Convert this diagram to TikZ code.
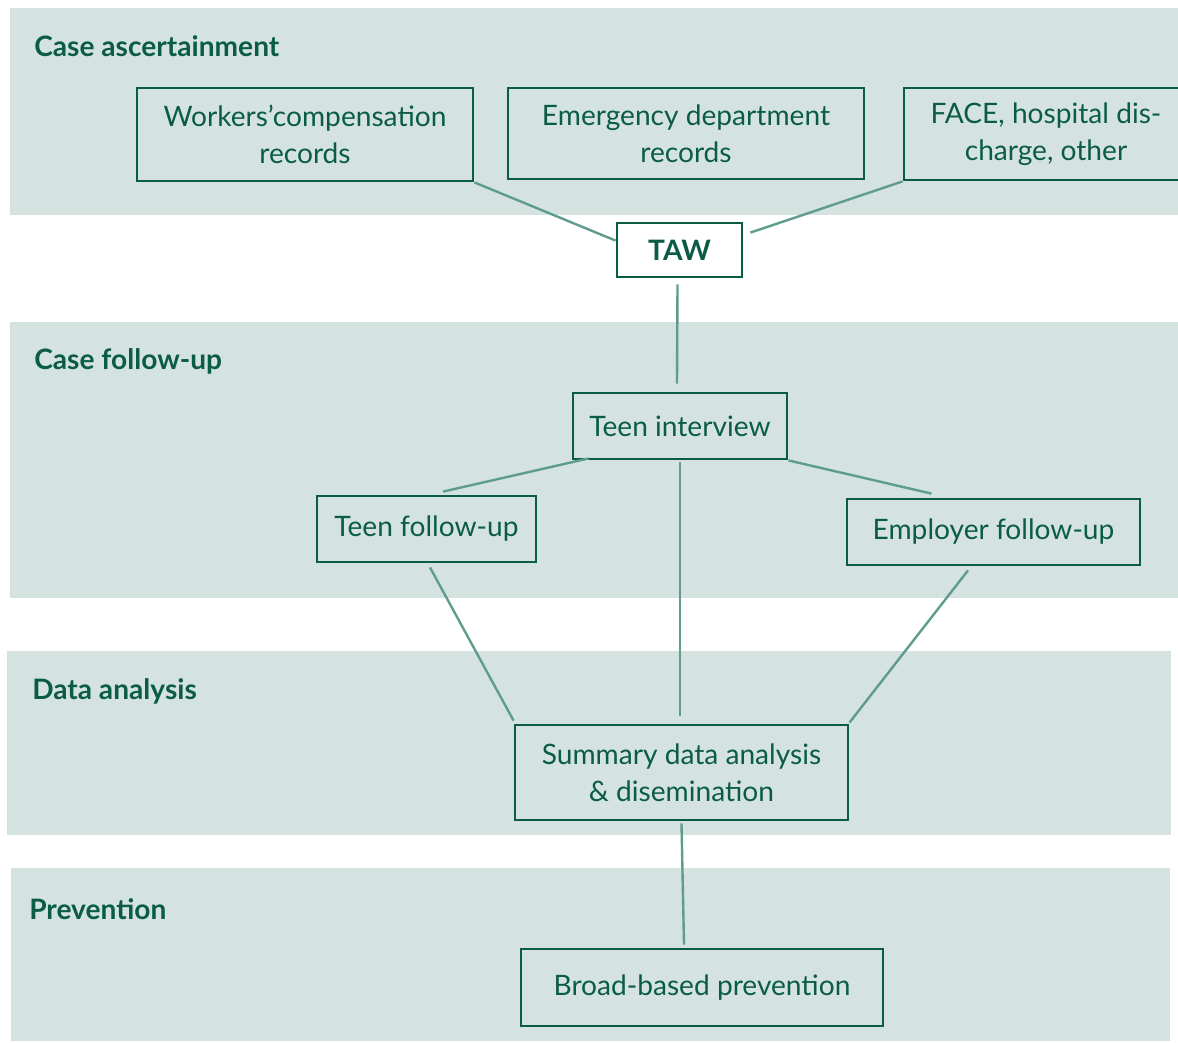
\documentclass[tikz,border=0pt]{standalone}
\usepackage{fontspec}
\setmainfont{Lato}
\usetikzlibrary{calc}

\definecolor{bandfill}{HTML}{D5E3E0}
\definecolor{darkgreen}{HTML}{0B5C47}
\definecolor{linkteal}{HTML}{5E9C8E}

\tikzset{
  band/.style={fill=bandfill, draw=none},
  box/.style={draw=darkgreen, line width=2pt, text=darkgreen, align=center,
    inner sep=0pt, font=\fontsize{20}{26.3}\selectfont},
  heading/.style={anchor=base west, text=darkgreen, inner sep=0pt,
    font=\fontsize{20}{24}\selectfont\bfseries},
  link/.style={draw=linkteal, line width=1.7pt}
}

\begin{document}
\begin{tikzpicture}[x=0.025cm, y=-0.025cm]
  \useasboundingbox (0,0) rectangle (1178,1042);
  \clip (0,0) rectangle (1178,1042);

  % bands
  \fill[band] (10,8) rectangle (1178,215);
  \fill[band] (10,322) rectangle (1178,598);
  \fill[band] (7,651) rectangle (1171,835);
  \fill[band] (11,868) rectangle (1170,1041);

  \node[heading] (hcase) at (34,56) {Case ascertainment};
  \node[heading] (hfollow) at (34,369) {Case follow-up};
  \node[heading] (hdata) at (32,699) {Data analysis};
  \node[heading] (hprev) at (29,919) {Prevention};

  % sources
  \node[box, minimum width=8.4cm, minimum height=2.325cm] (workers) at (305,134.5)
    {Workers'compensation\\records};
  \node[box, minimum width=8.9cm, minimum height=2.275cm] (emergency) at (686,133.5)
    {Emergency department\\records};
  \node[box, minimum width=7.1cm, minimum height=2.3cm] (face) at (1046,134)
    {FACE, hospital dis-\\charge, other};
  \node[box, fill=white, minimum width=3.125cm, minimum height=1.35cm,
    font=\fontsize{20}{24}\selectfont\bfseries] (taw) at (679.5,250) {TAW};

  % follow-up
  \node[box, minimum width=5.35cm, minimum height=1.65cm] (interview) at (680,426)
    {Teen interview};
  \node[box, minimum width=5.475cm, minimum height=1.65cm] (teenfu) at (426.5,529)
    {Teen follow-up};
  \node[box, minimum width=7.325cm, minimum height=1.65cm] (employer) at (993.5,532)
    {Employer follow-up};

  % analysis and prevention
  \node[box, minimum width=8.325cm, minimum height=2.375cm] (summary) at (681.5,772.5)
    {Summary data analysis\\\& disemination};
  \node[box, minimum width=9.05cm, minimum height=1.925cm] (broad) at (702,987.5)
    {Broad-based prevention};

  \draw[link] (workers.south east) -- ($(taw.north west)+(0,19)$);
  \draw[link] (face.south west) -- ($(taw.north east)+(7,11)$);
  \draw[link] ($(taw.south)+(-2,6)$) -- ($(interview.north)+(-3,-8)$);
  \draw[link] ($(interview.south west)+(17,-2)$) -- ($(teenfu.north)+(16.5,-3)$);
  \draw[link] (interview.south east) -- ($(employer.north)+(-62,-4)$);
  \draw[link] ($(interview.south)+(0,2)$) -- ($(summary.north)+(-1.5,-8)$);
  \draw[link] ($(teenfu.south)+(3.5,4)$) -- ($(summary.north west)+(0,-3)$);
  \draw[link] ($(employer.south)+(-25.5,4)$) -- ($(summary.north east)+(0,-1)$);
  \draw[link] ($(summary.south)+(0,2)$) -- ($(broad.north)+(-18,-3)$);
\end{tikzpicture}
\end{document}
